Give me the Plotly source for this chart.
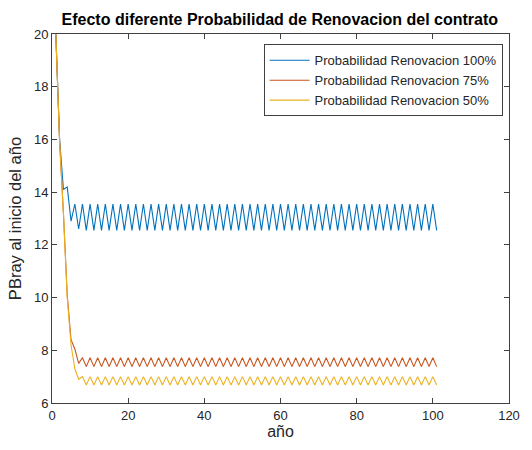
import plotly.graph_objects as go

years = list(range(1, 102))

prob_100 = [20.0, 16.0, 14.1, 14.2, 12.9, 13.55, 12.6,
    13.55, 12.55, 13.55, 12.55, 13.55, 12.55, 13.55, 12.55, 13.55, 12.55, 13.55, 12.55, 13.55, 12.55, 13.55, 12.55, 13.55, 12.55, 13.55, 12.55, 13.55, 12.55,
    13.55, 12.55, 13.55, 12.55, 13.55, 12.55, 13.55, 12.55, 13.55, 12.55, 13.55, 12.55, 13.55, 12.55, 13.55, 12.55, 13.55, 12.55, 13.55, 12.55,
    13.55, 12.55, 13.55, 12.55, 13.55, 12.55, 13.55, 12.55, 13.55, 12.55, 13.55, 12.55, 13.55, 12.55, 13.55, 12.55, 13.55, 12.55, 13.55, 12.55,
    13.55, 12.55, 13.55, 12.55, 13.55, 12.55, 13.55, 12.55, 13.55, 12.55, 13.55, 12.55, 13.55, 12.55, 13.55, 12.55, 13.55, 12.55, 13.55, 12.55,
    13.55, 12.55, 13.55, 12.55, 13.55, 12.55, 13.55, 12.55, 13.55, 12.55, 13.55, 12.55, 13.55, 12.55]

prob_75 = [20.0, 15.9, 13.2, 10.1, 8.4, 8.05, 7.5,
    7.72, 7.38, 7.72, 7.38, 7.72, 7.38, 7.72, 7.38, 7.72, 7.38, 7.72, 7.38, 7.72, 7.38, 7.72, 7.38, 7.72, 7.38, 7.72, 7.38, 7.72, 7.38,
    7.72, 7.38, 7.72, 7.38, 7.72, 7.38, 7.72, 7.38, 7.72, 7.38, 7.72, 7.38, 7.72, 7.38, 7.72, 7.38, 7.72, 7.38, 7.72, 7.38,
    7.72, 7.38, 7.72, 7.38, 7.72, 7.38, 7.72, 7.38, 7.72, 7.38, 7.72, 7.38, 7.72, 7.38, 7.72, 7.38, 7.72, 7.38, 7.72, 7.38,
    7.72, 7.38, 7.72, 7.38, 7.72, 7.38, 7.72, 7.38, 7.72, 7.38, 7.72, 7.38, 7.72, 7.38, 7.72, 7.38, 7.72, 7.38, 7.72, 7.38,
    7.72, 7.38, 7.72, 7.38, 7.72, 7.38, 7.72, 7.38, 7.72, 7.38, 7.72, 7.38, 7.72, 7.38]

prob_50 = [20.0, 15.9, 13.2, 10.0, 8.2, 7.3, 6.9,
    7.0, 6.68, 7.0, 6.68, 7.0, 6.68, 7.0, 6.68, 7.0, 6.68, 7.0, 6.68, 7.0, 6.68, 7.0, 6.68, 7.0, 6.68, 7.0, 6.68, 7.0, 6.68,
    7.0, 6.68, 7.0, 6.68, 7.0, 6.68, 7.0, 6.68, 7.0, 6.68, 7.0, 6.68, 7.0, 6.68, 7.0, 6.68, 7.0, 6.68, 7.0, 6.68,
    7.0, 6.68, 7.0, 6.68, 7.0, 6.68, 7.0, 6.68, 7.0, 6.68, 7.0, 6.68, 7.0, 6.68, 7.0, 6.68, 7.0, 6.68, 7.0, 6.68,
    7.0, 6.68, 7.0, 6.68, 7.0, 6.68, 7.0, 6.68, 7.0, 6.68, 7.0, 6.68, 7.0, 6.68, 7.0, 6.68, 7.0, 6.68, 7.0, 6.68,
    7.0, 6.68, 7.0, 6.68, 7.0, 6.68, 7.0, 6.68, 7.0, 6.68, 7.0, 6.68, 7.0, 6.68]

series = [
    ("Probabilidad Renovacion 100%", prob_100, "#0072BD"),
    ("Probabilidad Renovacion 75%", prob_75, "#C8541E"),
    ("Probabilidad Renovacion 50%", prob_50, "#EDB120"),
]

fig = go.Figure()
for name, vals, color in series:
    fig.add_trace(go.Scatter(x=years, y=vals, mode="lines", name=name,
                             line=dict(color=color, width=1.1)))

axis_common = dict(showline=True, linecolor="#404040", linewidth=1, mirror="ticks",
                   ticks="inside", ticklen=5, tickcolor="#404040", showgrid=False,
                   zeroline=False, tickfont=dict(family="Arial", size=13, color="#262626"))

fig.update_layout(
    width=532, height=450,
    margin=dict(l=52, r=13, t=34, b=42),
    paper_bgcolor="white", plot_bgcolor="white",
    title=dict(text="<b>Efecto diferente Probabilidad de Renovacion del contrato</b>",
               x=0.526, xanchor="center", y=0.958, yanchor="middle",
               font=dict(family="Arial", size=16, color="black")),
    xaxis=dict(range=[0, 120], dtick=20, title=dict(text="año", standoff=4,
               font=dict(family="Arial", size=16, color="#262626")), **axis_common),
    yaxis=dict(range=[6, 20], dtick=2, title=dict(text="PBray al inicio del año", standoff=8,
               font=dict(family="Arial", size=16.5, color="#262626")), **axis_common),
    legend=dict(x=0.986, xanchor="right", y=0.972, yanchor="top",
                bgcolor="white", bordercolor="#404040", borderwidth=1,
                font=dict(family="Arial", size=13, color="#262626"),
                tracegroupgap=0, itemwidth=40),
    showlegend=True,
)

fig.write_html("out.html")
